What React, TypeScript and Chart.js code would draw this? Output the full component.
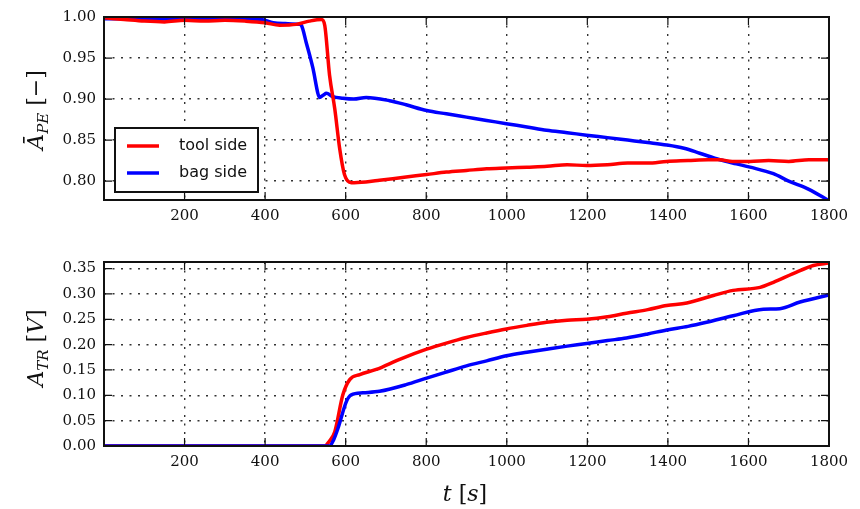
import React, { useEffect, useRef } from "react";
import { Chart, registerables } from "chart.js";

Chart.register(...registerables);

// ---------- data ----------
const xTickValues = [200, 400, 600, 800, 1000, 1200, 1400, 1600, 1800];
const apeTickValues = [0.8, 0.85, 0.9, 0.95, 1.0];
const atrTickValues = [0, 0.05, 0.1, 0.15, 0.2, 0.25, 0.3, 0.35];

const seriesNames = ["tool side", "bag side"];

// top panel: A_PE, tool side
const toolPeTime = [0, 50, 100, 150, 200, 250, 300, 350, 400, 436, 477, 510, 540, 548, 560, 573, 585, 597, 614, 650, 684, 750, 801, 850, 900, 950, 999, 1050, 1100, 1150, 1198, 1250, 1300, 1350, 1397, 1450, 1500, 1529, 1560, 1604, 1650, 1700, 1750, 1800];
const toolPe = [0.999, 0.997, 0.995, 0.994, 0.996, 0.995, 0.996, 0.995, 0.993, 0.99, 0.991, 0.995, 0.997, 0.99, 0.929, 0.888, 0.84, 0.808, 0.798, 0.799, 0.801, 0.805, 0.808, 0.811, 0.813, 0.815, 0.816, 0.817, 0.818, 0.82, 0.819, 0.82, 0.822, 0.822, 0.824, 0.825, 0.826, 0.826, 0.824, 0.824, 0.825, 0.824, 0.826, 0.826];

// top panel: A_PE, bag side
const bagPeTime = [0, 100, 200, 300, 390, 420, 450, 486, 490, 502, 519, 531, 535, 545, 552, 568, 593, 620, 651, 709, 750, 801, 850, 900, 950, 999, 1050, 1099, 1150, 1198, 1250, 1300, 1350, 1397, 1440, 1479, 1529, 1570, 1604, 1662, 1700, 1750, 1800];
const bagPe = [0.998, 0.998, 0.997, 0.998, 0.997, 0.993, 0.992, 0.991, 0.99, 0.969, 0.937, 0.907, 0.902, 0.905, 0.907, 0.903, 0.901, 0.9, 0.902, 0.898, 0.893, 0.886, 0.882, 0.878, 0.874, 0.87, 0.866, 0.862, 0.859, 0.856, 0.853, 0.85, 0.847, 0.844, 0.84, 0.834, 0.826, 0.821, 0.817, 0.809, 0.8, 0.79, 0.776];

// bottom panel: A_TR, tool side
const toolTrTime = [0, 100, 200, 300, 400, 500, 548, 560, 573, 593, 610, 635, 676, 734, 801, 850, 900, 950, 999, 1050, 1099, 1150, 1198, 1250, 1297, 1350, 1397, 1447, 1513, 1562, 1629, 1662, 1711, 1761, 1800];
const toolTr = [0, 0, 0, 0, 0, 0, 0, 0.01, 0.028, 0.101, 0.131, 0.141, 0.151, 0.171, 0.191, 0.203, 0.214, 0.223, 0.231, 0.238, 0.244, 0.248, 0.25, 0.255, 0.262, 0.269, 0.277, 0.282, 0.297, 0.307, 0.313, 0.323, 0.34, 0.356, 0.361];

// bottom panel: A_TR, bag side
const bagTrTime = [0, 100, 200, 300, 400, 500, 560, 570, 581, 602, 614, 643, 684, 750, 801, 850, 900, 950, 999, 1050, 1099, 1150, 1198, 1250, 1297, 1350, 1397, 1450, 1496, 1562, 1637, 1678, 1728, 1800];
const bagTr = [0, 0, 0, 0, 0, 0, 0, 0.012, 0.035, 0.088, 0.101, 0.105, 0.108, 0.121, 0.134, 0.146, 0.158, 0.168, 0.178, 0.185, 0.191, 0.197, 0.202, 0.208, 0.213, 0.221, 0.229, 0.236, 0.244, 0.257, 0.27, 0.271, 0.284, 0.298];

// ---------- style ----------
const SERIF = "'DejaVu Serif', serif";
const SANS = "'DejaVu Sans', sans-serif";
const RED = "#ff0000";
const BLUE = "#0000ff";
const LINE_W = 3.5;

type Seg = { text: string; font: string; dy?: number };

function drawRich(ctx: CanvasRenderingContext2D, segs: Seg[], x: number, y: number, rotate: boolean) {
  ctx.save();
  ctx.translate(x, y);
  if (rotate) ctx.rotate(-Math.PI / 2);
  ctx.textBaseline = "alphabetic";
  ctx.textAlign = "left";
  ctx.fillStyle = "#111";
  let total = 0;
  const widths = segs.map((s) => {
    ctx.font = s.font;
    const w = ctx.measureText(s.text).width;
    total += w;
    return w;
  });
  let cx = -total / 2;
  segs.forEach((s, i) => {
    ctx.font = s.font;
    ctx.fillText(s.text, cx, s.dy || 0);
    cx += widths[i];
  });
  ctx.restore();
}

function framePlugin(xt: number[], yt: number[]) {
  return {
    id: "frameTicks",
    afterDatasetsDraw(chart: any) {
      const { ctx, chartArea: a, scales } = chart;
      ctx.save();
      ctx.strokeStyle = "#111";
      ctx.lineWidth = 1.2;
      const L = 8;
      xt.forEach((v) => {
        const px = scales.x.getPixelForValue(v);
        ctx.beginPath();
        ctx.moveTo(px, a.bottom);
        ctx.lineTo(px, a.bottom - L);
        ctx.moveTo(px, a.top);
        ctx.lineTo(px, a.top + L);
        ctx.stroke();
      });
      yt.forEach((v) => {
        const py = scales.y.getPixelForValue(v);
        ctx.beginPath();
        ctx.moveTo(a.left, py);
        ctx.lineTo(a.left + L, py);
        ctx.moveTo(a.right, py);
        ctx.lineTo(a.right - L, py);
        ctx.stroke();
      });
      ctx.lineWidth = 2;
      ctx.strokeRect(a.left, a.top, a.right - a.left, a.bottom - a.top);
      ctx.restore();
    },
  };
}

function titlePlugin(draw: (ctx: CanvasRenderingContext2D, chart: any) => void) {
  return {
    id: "richTitles",
    afterDraw(chart: any) {
      draw(chart.ctx, chart);
    },
  };
}

const legendPlugin = {
  id: "boxLegend",
  afterDatasetsDraw(chart: any) {
    const { ctx, chartArea: a } = chart;
    const x0 = a.left + 11;
    const y0 = a.bottom - 72;
    const w = 143;
    const h = 64;
    ctx.save();
    ctx.fillStyle = "#fff";
    ctx.fillRect(x0, y0, w, h);
    ctx.strokeStyle = "#111";
    ctx.lineWidth = 2;
    ctx.strokeRect(x0, y0, w, h);
    const colors = [RED, BLUE];
    seriesNames.forEach((name, i) => {
      const y = y0 + 18 + i * 27;
      ctx.strokeStyle = colors[i];
      ctx.lineWidth = LINE_W;
      ctx.beginPath();
      ctx.moveTo(x0 + 12, y);
      ctx.lineTo(x0 + 44, y);
      ctx.stroke();
      ctx.fillStyle = "#111";
      ctx.font = `16px ${SANS}`;
      ctx.textBaseline = "middle";
      ctx.textAlign = "left";
      ctx.fillText(name, x0 + 64, y);
    });
    ctx.restore();
  },
};

function pts(t: number[], v: number[]) {
  return t.map((x, i) => ({ x, y: v[i] }));
}

function makeOptions(yMin: number, yMax: number, yTicks: number[], padTop: number, xHeight: number) {
  return {
    responsive: false,
    animation: false as const,
    devicePixelRatio: 1,
    layout: { padding: { left: 0, right: 31, top: padTop, bottom: 0 } },
    plugins: { legend: { display: false }, tooltip: { enabled: false }, title: { display: false } },
    elements: { point: { radius: 0 }, line: { tension: 0.3, cubicInterpolationMode: "monotone" as const } },
    scales: {
      x: {
        type: "linear" as const,
        min: 0,
        max: 1800,
        afterBuildTicks: (s: any) => {
          s.ticks = xTickValues.map((v) => ({ value: v }));
        },
        afterFit: (s: any) => {
          s.height = xHeight;
        },
        ticks: {
          color: "#111",
          font: { family: SERIF, size: 15 },
          padding: 7,
          maxRotation: 0,
          autoSkip: false,
          callback: (v: any) => String(v),
        },
        grid: { color: "#333", lineWidth: 1.4, drawTicks: false },
        border: { display: false, dash: [2, 6.5] },
      },
      y: {
        type: "linear" as const,
        min: yMin,
        max: yMax,
        afterBuildTicks: (s: any) => {
          s.ticks = yTicks.map((v) => ({ value: v }));
        },
        afterFit: (s: any) => {
          s.width = 104;
        },
        ticks: {
          color: "#111",
          font: { family: SERIF, size: 15 },
          padding: 8,
          autoSkip: false,
          callback: (v: any) => Number(v).toFixed(2),
        },
        grid: { color: "#333", lineWidth: 1.4, drawTicks: false },
        border: { display: false, dash: [2, 6.5] },
      },
    },
  };
}

export default function App() {
  const topRef = useRef<HTMLCanvasElement>(null);
  const botRef = useRef<HTMLCanvasElement>(null);

  useEffect(() => {
    const top = new Chart(topRef.current!, {
      type: "line",
      data: {
        datasets: [
          { label: seriesNames[0], data: pts(toolPeTime, toolPe), borderColor: RED, borderWidth: LINE_W, fill: false, order: 0, clip: 0 },
          { label: seriesNames[1], data: pts(bagPeTime, bagPe), borderColor: BLUE, borderWidth: LINE_W, fill: false, order: 1, clip: 0 },
        ],
      },
      options: makeOptions(0.777, 1.0, apeTickValues, 16, 35) as any,
      plugins: [
        framePlugin(xTickValues, apeTickValues),
        legendPlugin,
        titlePlugin((ctx) => {
          drawRich(
            ctx,
            [
              { text: "Ā", font: `italic 22px ${SERIF}` },
              { text: "PE", font: `italic 15px ${SERIF}`, dy: 5 },
              { text: " [−]", font: `22px ${SERIF}` },
            ],
            43,
            110,
            true
          );
        }),
      ],
    });

    const bot = new Chart(botRef.current!, {
      type: "line",
      data: {
        datasets: [
          { label: seriesNames[0], data: pts(toolTrTime, toolTr), borderColor: RED, borderWidth: LINE_W, fill: false, order: 1, clip: 0 },
          { label: seriesNames[1], data: pts(bagTrTime, bagTr), borderColor: BLUE, borderWidth: LINE_W, fill: false, order: 0, clip: 0 },
        ],
      },
      options: makeOptions(0, 0.363, atrTickValues, 22, 63) as any,
      plugins: [
        framePlugin(xTickValues, atrTickValues),
        titlePlugin((ctx) => {
          drawRich(
            ctx,
            [
              { text: "A", font: `italic 22px ${SERIF}` },
              { text: "TR", font: `italic 15px ${SERIF}`, dy: 5 },
              { text: " [", font: `22px ${SERIF}` },
              { text: "V", font: `italic 22px ${SERIF}` },
              { text: "]", font: `22px ${SERIF}` },
            ],
            43,
            348 - 240,
            true
          );
          drawRich(
            ctx,
            [
              { text: "t", font: `italic 22px ${SERIF}` },
              { text: " [", font: `22px ${SERIF}` },
              { text: "s", font: `italic 22px ${SERIF}` },
              { text: "]", font: `22px ${SERIF}` },
            ],
            465,
            501 - 240,
            false
          );
        }),
      ],
    });

    return () => {
      top.destroy();
      bot.destroy();
    };
  }, []);

  return (
    <div style={{ position: "absolute", left: 0, top: 0, width: 860, height: 509, background: "#fff" }}>
      <canvas ref={topRef} width={860} height={235} style={{ position: "absolute", left: 0, top: 0, width: 860, height: 235 }} />
      <canvas ref={botRef} width={860} height={269} style={{ position: "absolute", left: 0, top: 240, width: 860, height: 269 }} />
    </div>
  );
}
